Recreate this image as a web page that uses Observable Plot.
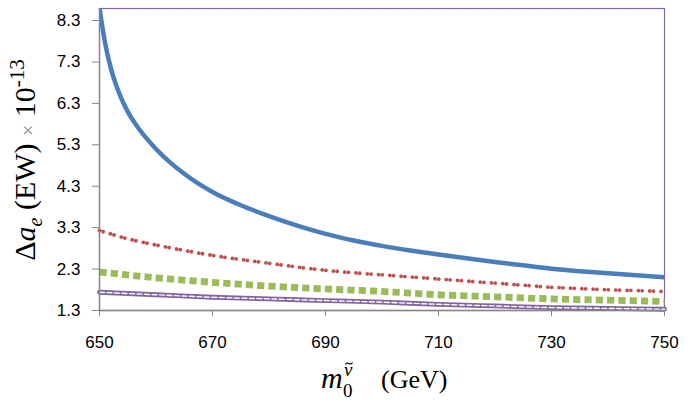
<!DOCTYPE html>
<html><head><meta charset="utf-8">
<script src="https://cdn.jsdelivr.net/npm/d3@7"></script>
<script src="https://cdn.jsdelivr.net/npm/@observablehq/plot@0.6"></script>
<style>
html,body{margin:0;padding:0;background:#fff;}
#chart svg{display:block;}
</style>
</head><body><div id="chart"></div>
<script>
// Blue (solid) series
const blueMass = [650,651,652,653,654,655,657,660,665,670,675,680,685,690,695,700,705,710,715,720,725,730,735,740,745,750];
const blueVal  = [8.6,7.75,7.15,6.72,6.38,6.1,5.68,5.2,4.6,4.16,3.84,3.58,3.35,3.15,2.99,2.86,2.75,2.65,2.56,2.47,2.39,2.31,2.25,2.20,2.15,2.10];
// Red (round dot) series
const redMass = [650,655,660,665,670,675,680,685,690,695,700,705,710,715,720,725,730,735,740,745,750];
const redVal  = [3.23,3.03,2.88,2.75,2.63,2.53,2.44,2.35,2.27,2.21,2.16,2.11,2.06,2.01,1.96,1.91,1.86,1.83,1.80,1.78,1.76];
// Green (square dot) series
const greenMass = [650,660,670,680,690,700,710,720,730,740,750];
const greenVal  = [2.23,2.09,1.98,1.89,1.82,1.76,1.68,1.63,1.58,1.55,1.52];
// Purple (double line) series
const purpleMass = [650,660,670,680,690,700,710,720,730,740,750];
const purpleVal  = [1.74,1.68,1.62,1.58,1.54,1.50,1.45,1.41,1.37,1.35,1.33];
// Tick labels
const xTicks = [650,670,690,710,730,750];
const yTicks = [1.3,2.3,3.3,4.3,5.3,6.3,7.3,8.3];

const toRows = (m, v) => m.map((x, i) => ({m: x, v: v[i]}));
const blue = toRows(blueMass, blueVal);
const red = toRows(redMass, redVal);
const green = toRows(greenMass, greenVal);
const purple = toRows(purpleMass, purpleVal);

const axisGrey = "#868686";
const chart = Plot.plot({
  width: 691, height: 406,
  marginLeft: 99, marginRight: 27, marginTop: 8, marginBottom: 96,
  style: {fontFamily: "'Liberation Sans', Arial, sans-serif", fontSize: "17px", color: "#000", background: "#fff"},
  x: {domain: [650, 750], ticks: xTicks, tickFormat: d => String(d), label: null},
  y: {domain: [1.3, 8.59], ticks: yTicks, tickFormat: d3.format(".1f"), label: null},
  marks: [
    Plot.frame({stroke: "#8064A2", strokeWidth: 1.2}),
    Plot.line(blue, {x: "m", y: "v", stroke: "#4A7EBB", strokeWidth: 4.5, curve: "monotone-x", clip: true}),
    Plot.line(red, {x: "m", y: "v", stroke: "#C0504D", strokeWidth: 3.8, strokeDasharray: "0.01,3.8,0.01,7.5", strokeLinecap: "round", curve: "monotone-x"}),
    Plot.line(green, {x: "m", y: "v", stroke: "#9BBB59", strokeWidth: 6.8, strokeDasharray: "7.2,4.1", strokeLinecap: "butt", curve: "monotone-x"}),
    Plot.line(purple, {x: "m", y: "v", stroke: "#8064A2", strokeWidth: 4.8, curve: "monotone-x"}),
    Plot.line(purple, {x: "m", y: "v", stroke: "#ffffff", strokeWidth: 1.4, strokeDasharray: "5,2.5", curve: "monotone-x"}),
    Plot.ruleX([650], {stroke: axisGrey, strokeWidth: 1.3}),
    Plot.ruleY([1.3], {stroke: axisGrey, strokeWidth: 1.3}),
    Plot.axisX({ticks: xTicks, tickFormat: d => String(d), tickSize: 6, tickPadding: 19, stroke: axisGrey, label: null}),
    Plot.axisY({ticks: yTicks, tickFormat: d3.format(".1f"), tickSize: 7, tickPadding: 12, stroke: axisGrey, label: null})
  ]
});
document.getElementById("chart").appendChild(chart);

const svg = d3.select(chart);
const serif = "'Liberation Serif', 'Times New Roman', serif";

// Y axis title
const yt = svg.append("text")
  .attr("transform", "translate(35,160) rotate(-90)")
  .attr("text-anchor", "middle")
  .style("font-family", serif).style("font-size", "30px").attr("fill", "#000");
yt.append("tspan").text("Δ");
yt.append("tspan").style("font-style", "italic").text("a");
yt.append("tspan").style("font-style", "italic").style("font-size", "20px").attr("dy", 7).text("e");
yt.append("tspan").attr("dy", -7).text(" (EW) ");
yt.append("tspan").attr("fill", "#888").style("font-size", "20px").text("×");
yt.append("tspan").text(" 10");
yt.append("tspan").style("font-size", "21px").attr("dy", -11).text("-13");

// X axis title
const xg = svg.append("g").style("font-family", serif).attr("fill", "#000").attr("text-anchor", "start");
xg.append("text").attr("x", 321).attr("y", 388).style("font-size", "30px").style("font-style", "italic").text("m");
xg.append("text").attr("x", 343).attr("y", 397).style("font-size", "19px").text("0");
xg.append("text").attr("x", 344).attr("y", 376).style("font-size", "19px").style("font-style", "italic").text("ν");
// tilde accent over the nu, drawn as a small stroke
xg.append("path").attr("d", "M345.5,364.5 q1.5,-2.5 3.5,-1 t3.5,-1").attr("fill", "none").attr("stroke", "#000").attr("stroke-width", 1.1);
xg.append("text").attr("x", 381).attr("y", 388).style("font-size", "26px").text("(GeV)");
</script>
</body></html>
